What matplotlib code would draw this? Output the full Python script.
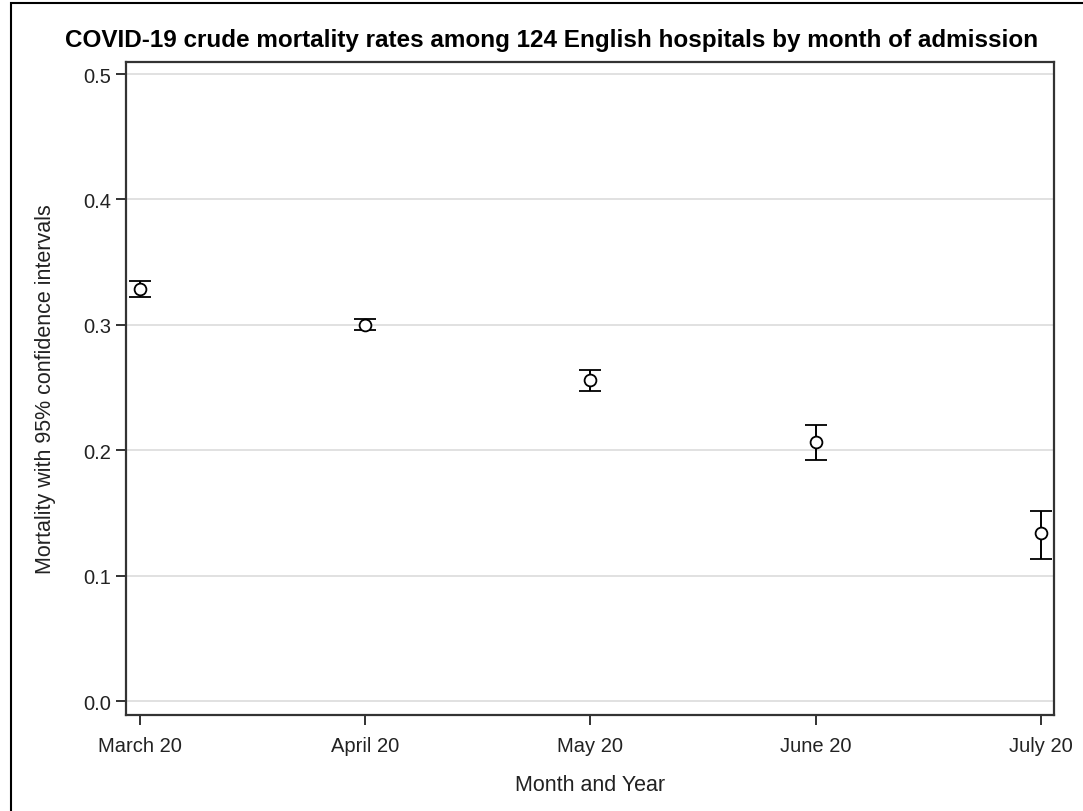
import matplotlib
matplotlib.use('Agg')
import matplotlib.pyplot as plt
from matplotlib.patches import Rectangle

# monthly crude mortality with 95% CI
months = ['March 20', 'April 20', 'May 20', 'June 20', 'July 20']
mortality = [0.3285, 0.2998, 0.256, 0.2065, 0.134]
ci_lower = [0.322, 0.2959, 0.247, 0.192, 0.113]
ci_upper = [0.335, 0.3046, 0.264, 0.220, 0.152]
y_ticks = [0.0, 0.1, 0.2, 0.3, 0.4, 0.5]

plt.rcParams['font.family'] = ['Liberation Sans', 'DejaVu Sans']

fig = plt.figure(figsize=(10.83, 8.12), dpi=100)
ax = fig.add_axes([126 / 1083, 1 - 716 / 812, (1054 - 126) / 1083, (716 - 63) / 812])

x = list(range(len(months)))
yerr = [[m - lo for m, lo in zip(mortality, ci_lower)],
        [hi - m for m, hi in zip(mortality, ci_upper)]]
ax.errorbar(x, mortality, yerr=yerr, fmt='o', color='black', mfc='white', mec='black',
            ms=8.5, mew=1.3, elinewidth=1.4, capsize=8, capthick=1.4, zorder=3)

ax.set_xlim(-0.062, 4.058)
ax.set_ylim(-0.011, 0.5096)
ax.set_xticks(x)
ax.set_xticklabels(months, fontsize=14.5)
ax.set_yticks(y_ticks)
ax.set_yticklabels([f'{t:.1f}' for t in y_ticks], fontsize=14.5)
ax.yaxis.grid(True, color='#dcdcdc', linewidth=1.2)
ax.set_axisbelow(True)
ax.tick_params(direction='out', length=7, width=1.3, colors='#222222', labelcolor='#222222')
ax.tick_params(axis='x', pad=8)
for s in ax.spines.values():
    s.set_linewidth(1.6)
    s.set_color('#333333')

ax.set_xlabel('Month and Year', fontsize=15.5, color='#222222', labelpad=14)
ax.set_ylabel('Mortality with 95% confidence intervals', fontsize=15.5, color='#222222', labelpad=20)
fig.text(552 / 1083, 1 - 40 / 812, 'COVID-19 crude mortality rates among 124 English hospitals by month of admission',
         ha='center', va='center', fontsize=17.5, fontweight='bold')

# outer frame
fig.patches.append(Rectangle((11 / 1083, -0.01), 1.1, 1 - 4 / 812 + 0.01, transform=fig.transFigure,
                             fill=False, edgecolor='black', linewidth=1.5))

fig.savefig('out.png', dpi=100)
